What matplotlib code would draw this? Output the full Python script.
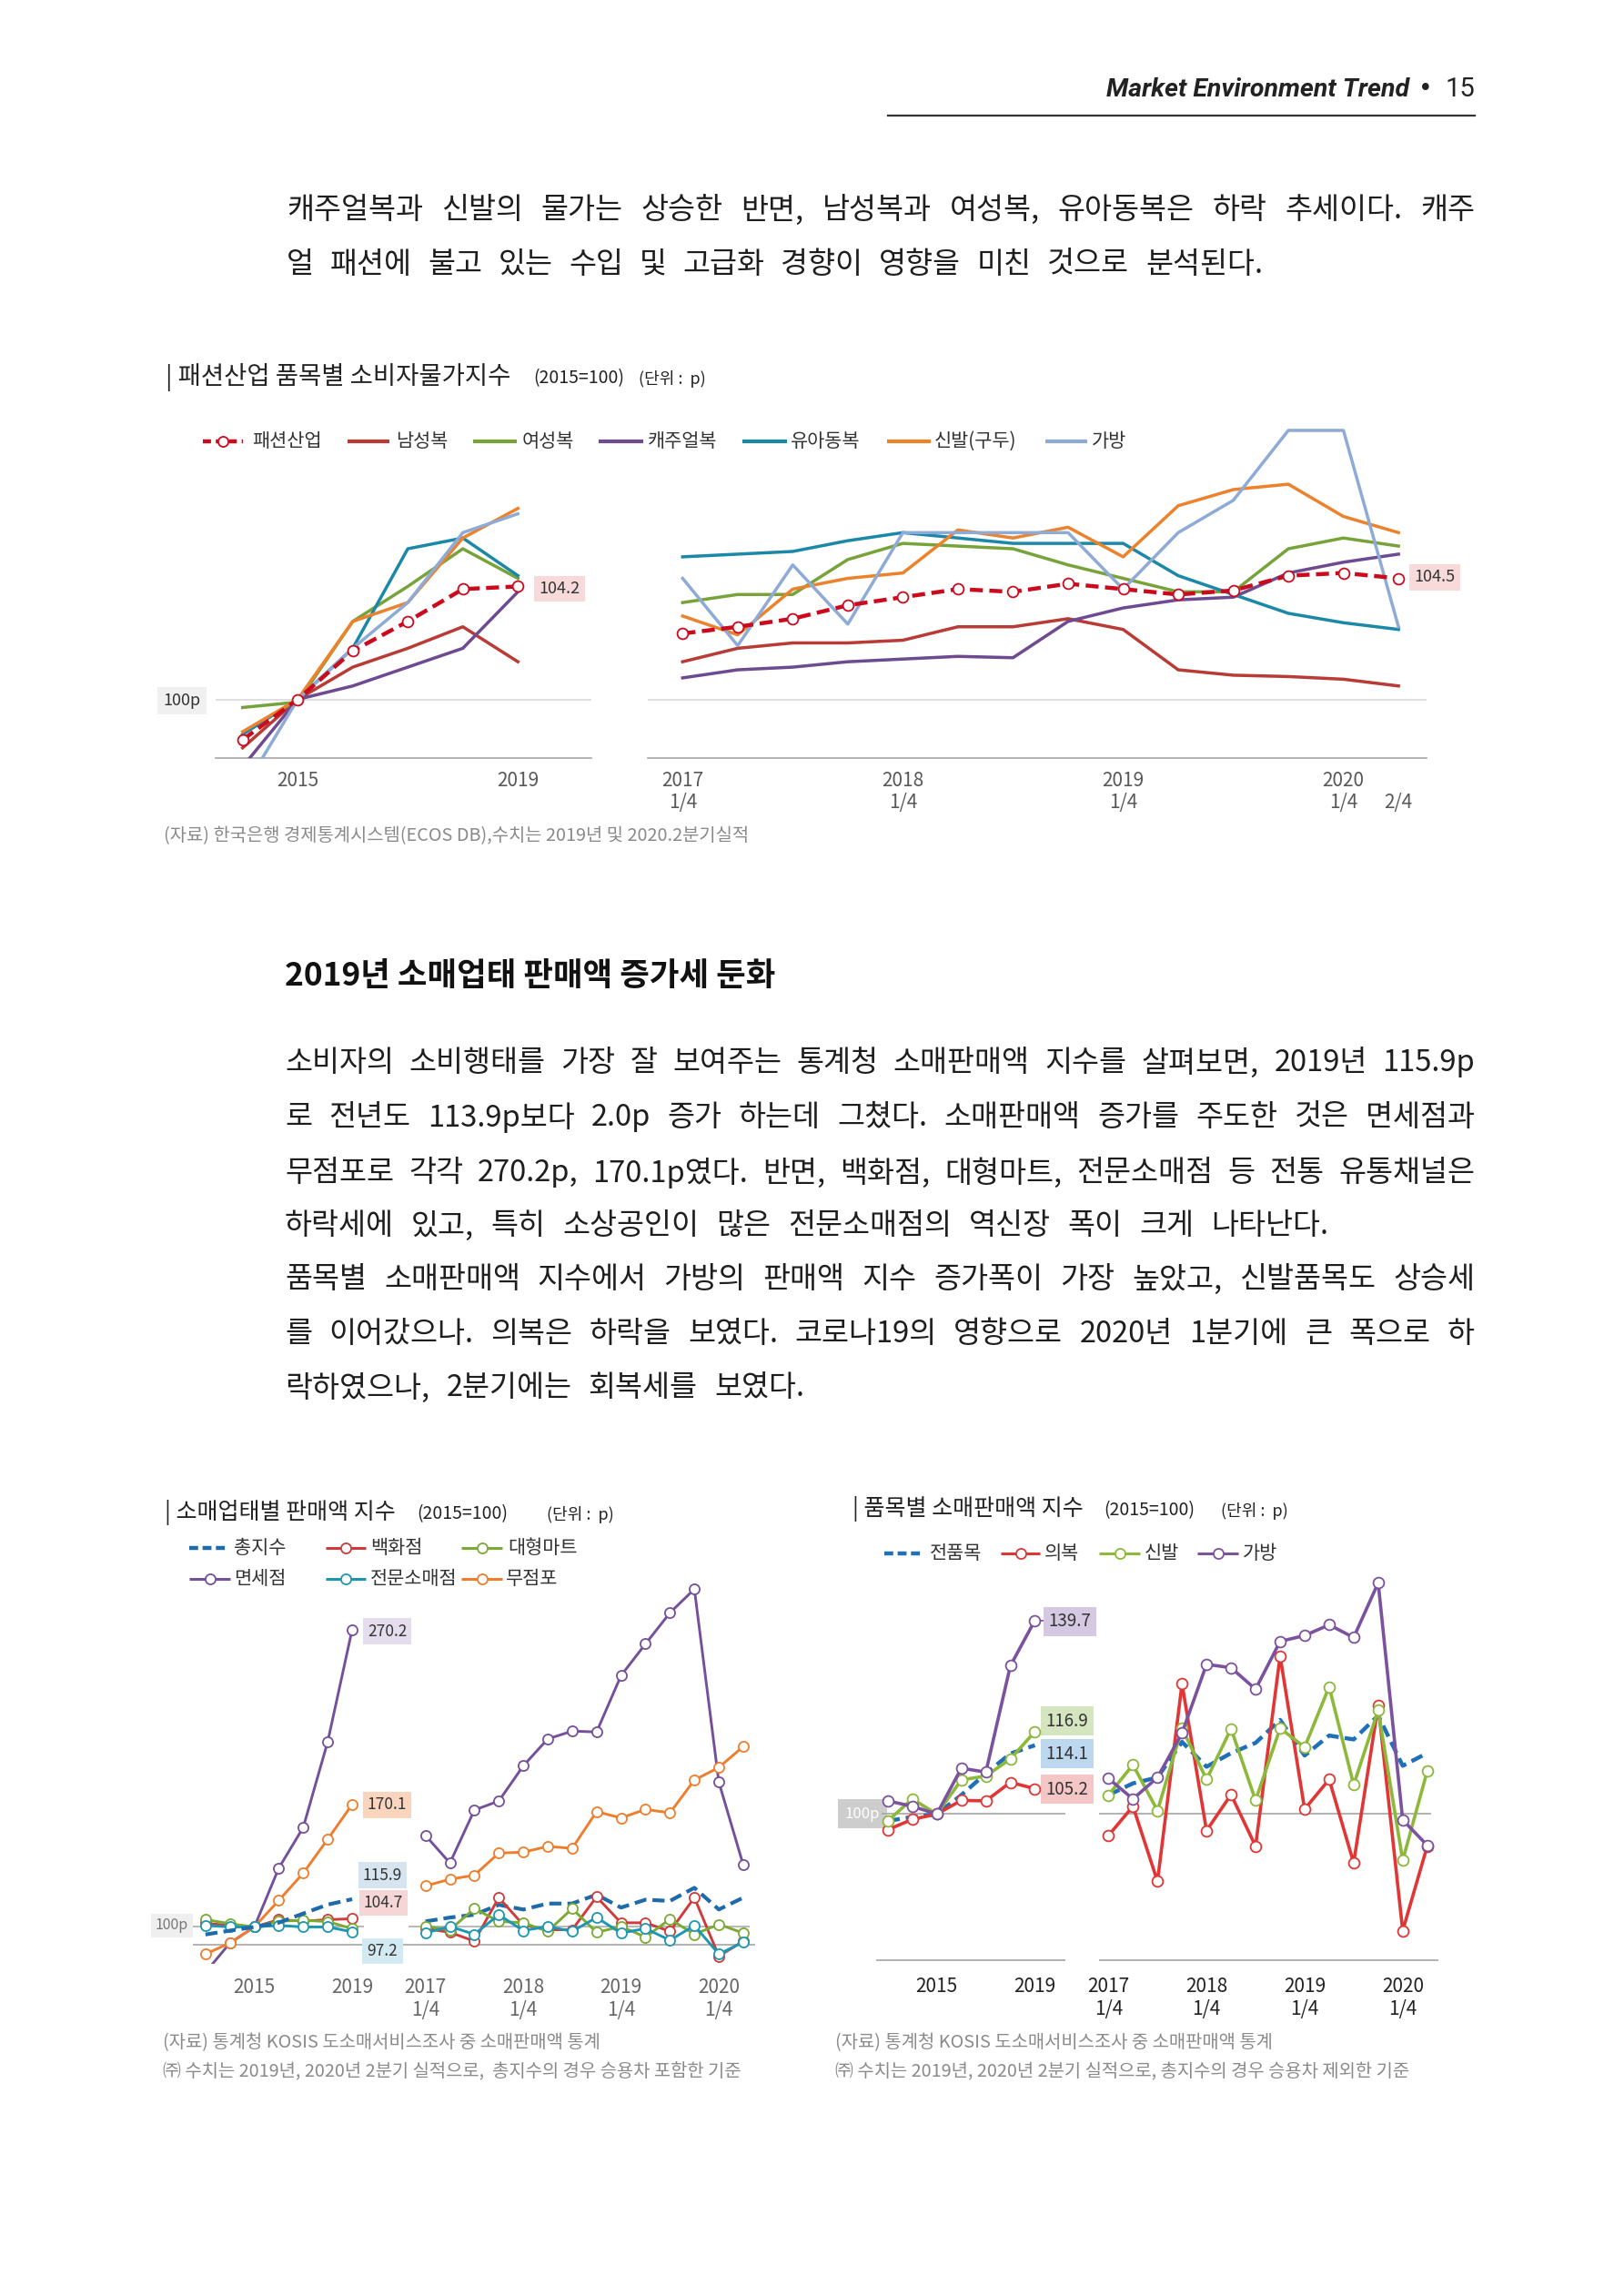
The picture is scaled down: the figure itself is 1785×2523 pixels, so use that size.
import matplotlib
matplotlib.use('Agg')
import matplotlib.pyplot as plt

plt.rcParams['font.family'] = ['Noto Sans CJK KR', 'DejaVu Sans']
plt.rcParams['axes.unicode_minus'] = False

# ================= DATA =================
# Chart 1: 패션산업 품목별 소비자물가지수 (2015=100)
cpi_year_labels = ['2014', '2015', '2016', '2017', '2018', '2019']
cpi_quarter_labels = ['2017 1/4', '2017 2/4', '2017 3/4', '2017 4/4',
                      '2018 1/4', '2018 2/4', '2018 3/4', '2018 4/4',
                      '2019 1/4', '2019 2/4', '2019 3/4', '2019 4/4',
                      '2020 1/4', '2020 2/4']
cpi_names = ['패션산업', '남성복', '여성복', '캐주얼복', '유아동복', '신발(구두)', '가방']
cpi_fashion_annual = [98.5, 100.0, 101.8, 102.9, 104.1, 104.2]
cpi_men_annual = [98.2, 100.0, 101.2, 101.9, 102.7, 101.4]
cpi_women_annual = [99.7, 99.9, 102.9, 104.2, 105.6, 104.5]
cpi_casual_annual = [97.5, 100.0, 100.5, 101.2, 101.9, 104.0]
cpi_kids_annual = [98.7, 100.0, 101.9, 105.6, 106.0, 104.6]
cpi_shoes_annual = [98.8, 100.0, 102.9, 103.6, 106.0, 107.1]
cpi_bags_annual = [96.6, 100.0, 101.9, 103.6, 106.2, 106.9]
cpi_fashion_q = [102.45, 102.7, 103.0, 103.5, 103.8, 104.1, 104.0, 104.3, 104.1, 103.9, 104.05, 104.6, 104.7, 104.5]
cpi_men_q = [101.4, 101.9, 102.1, 102.1, 102.2, 102.7, 102.7, 103.0, 102.6, 101.1, 100.9, 100.85, 100.75, 100.5]
cpi_women_q = [103.6, 103.9, 103.9, 105.2, 105.8, 105.7, 105.6, 105.0, 104.5, 104.0, 104.0, 105.6, 106.0, 105.7]
cpi_casual_q = [100.8, 101.1, 101.2, 101.4, 101.5, 101.6, 101.55, 102.9, 103.4, 103.7, 103.8, 104.7, 105.1, 105.4]
cpi_kids_q = [105.3, 105.4, 105.5, 105.9, 106.2, 106.0, 105.8, 105.8, 105.8, 104.6, 103.9, 103.2, 102.85, 102.6]
cpi_shoes_q = [103.1, 102.4, 104.1, 104.5, 104.7, 106.3, 106.0, 106.4, 105.3, 107.2, 107.8, 108.0, 106.8, 106.2]
cpi_bags_q = [104.5, 102.0, 105.0, 102.8, 106.2, 106.2, 106.2, 106.2, 104.1, 106.2, 107.4, 110.0, 110.0, 102.7]

# Chart 2: 소매업태별 판매액 지수 (2015=100)
retail_year_labels = ['2013', '2014', '2015', '2016', '2017', '2018', '2019']
retail_names = ['총지수', '백화점', '대형마트', '면세점', '전문소매점', '무점포']
retail_total_a = [95.7, 97.9, 100.0, 102.5, 107.7, 112.8, 115.9]
retail_dept_a = [102.1, 100.9, 100.0, 104.2, 103.3, 104.2, 104.7]
retail_mart_a = [104.2, 101.9, 100.0, 103.3, 103.8, 103.1, 99.0]
retail_dutyfree_a = [74.0, 90.8, 100.0, 133.7, 157.0, 206.0, 270.2]
retail_specialty_a = [100.9, 100.0, 100.0, 100.9, 100.0, 100.0, 97.2]
retail_nonstore_a = [84.5, 90.8, 100.0, 115.2, 130.8, 150.2, 170.1]
retail_total_q = [103.2, 105.4, 107.0, 112.7, 110.0, 113.4, 113.4, 118.5, 111.1, 115.6, 114.9, 122.4, 110.0, 116.8]
retail_dept_q = [99.1, 96.9, 91.9, 116.8, 101.2, 98.4, 98.4, 117.2, 102.4, 102.4, 97.5, 116.8, 83.3, 91.9]
retail_mart_q = [100.3, 98.4, 110.5, 103.2, 102.4, 97.5, 110.5, 96.9, 100.3, 94.2, 104.5, 95.8, 101.5, 96.5]
retail_dutyfree_q = [152.4, 136.6, 166.9, 172.1, 192.2, 207.6, 212.1, 211.6, 243.9, 262.0, 279.8, 293.4, 182.9, 135.5]
retail_specialty_q = [96.5, 100.3, 95.8, 107.0, 97.9, 100.3, 97.5, 105.4, 96.5, 99.1, 92.4, 100.8, 84.5, 91.3]
retail_nonstore_q = [123.5, 127.3, 129.6, 142.3, 142.8, 146.1, 145.0, 166.0, 162.4, 167.3, 165.3, 184.1, 191.3, 203.3]

# Chart 3: 품목별 소매판매액 지수 (2015=100)
item_names = ['전품목', '의복', '신발', '가방']
item_all_a = [98.6, 99.4, 100.0, 103.9, 108.3, 112.4, 114.1]
item_clothes_a = [96.8, 98.9, 100.0, 102.8, 102.7, 106.5, 105.2]
item_shoes_a = [98.6, 103.1, 100.0, 107.0, 107.8, 111.3, 116.9]
item_bags_a = [102.7, 101.6, 100.0, 109.4, 108.6, 130.4, 139.7]
item_all_q = [103.9, 106.3, 107.5, 114.8, 109.7, 112.5, 114.6, 119.3, 112.0, 116.1, 115.3, 120.2, 109.9, 112.5]
item_clothes_q = [95.6, 101.6, 86.2, 126.7, 96.6, 104.0, 93.4, 132.4, 101.0, 107.1, 90.0, 122.3, 76.1, 93.4]
item_shoes_q = [103.9, 110.1, 100.7, 117.6, 107.1, 117.5, 102.8, 117.6, 113.7, 126.1, 106.0, 121.3, 90.5, 108.8]
item_bags_q = [107.3, 103.1, 107.5, 116.6, 130.7, 130.0, 125.6, 135.4, 136.6, 138.8, 136.2, 147.4, 98.8, 93.6]

# ================= FIGURE =================
W, H = 1785, 2523
fig = plt.figure(figsize=(W / 100, H / 100), dpi=100)
fig.patch.set_facecolor('white')
bg = fig.add_axes([0, 0, 1, 1], zorder=0)
bg.set_xlim(0, W)
bg.set_ylim(H, 0)
bg.axis('off')
renderer = fig.canvas.get_renderer()

TXT = '#1e1e1e'
BODY = 23.5
LEG = 15
SRC = 14.3


def make_ax(x0, y0, x1, y1):
    ax = fig.add_axes([x0 / W, 1 - y1 / H, (x1 - x0) / W, (y1 - y0) / H], zorder=2)
    ax.patch.set_visible(False)
    for s in ax.spines.values():
        s.set_visible(False)
    ax.tick_params(axis='both', length=0)
    ax.set_yticks([])
    return ax


def justify(text, x0, x1, y, size, **kw):
    words = text.split(' ')
    arts = [bg.text(0, y, w, fontsize=size, va='center', ha='left', color=TXT, **kw) for w in words]
    widths = [a.get_window_extent(renderer).width for a in arts]
    gap = (x1 - x0 - sum(widths)) / max(len(words) - 1, 1)
    x = x0
    for a, w in zip(arts, widths):
        a.set_x(x)
        x += w + gap


def legend_item(x0, x1, y, color, label, tx, ls='-', lw=2.2, marker=False, fs=LEG):
    bg.plot([x0, x1], [y, y], color=color, lw=lw, ls=ls, solid_capstyle='butt')
    if marker:
        bg.plot([(x0 + x1) / 2], [y], marker='o', ms=8, mfc='white', mec=color, mew=1.3)
    bg.text(tx, y, label, va='center', ha='left', fontsize=fs, color='#333333')


def value_label(ax, x, v, dx, dy, fc, fs, lead=None):
    kw = {}
    if lead:
        kw['arrowprops'] = dict(arrowstyle='-', color=lead, lw=1.2, shrinkA=0, shrinkB=0)
    ax.annotate(f'{v:.1f}', xy=(x, v), xytext=(dx, dy), textcoords='offset points',
                ha='center', va='center', fontsize=fs, color='#333333', zorder=1,
                bbox=dict(boxstyle='square,pad=0.3', fc=fc, ec='none'), annotation_clip=False, **kw)


def chart_title(x, y, title, x2, x3, size):
    bg.text(x, y, '| ' + title, va='center', ha='left', fontsize=size, color='#222222')
    bg.text(x2, y + 2, '(2015=100)', va='center', ha='left', fontsize=14, color='#222222')
    bg.text(x3, y + 3, '(단위 :  p)', va='center', ha='left', fontsize=13, color='#222222')


# ---------- header ----------
bg.text(1621, 98, '15', ha='right', va='center', fontsize=21, family='Roboto', color='#222222')
bg.text(1567, 98, '•', ha='center', va='center', fontsize=19, family='DejaVu Sans', color='#222222')
bg.text(1549, 99, 'Market Environment Trend', ha='right', va='center', fontsize=20.5,
        family='Roboto', fontstyle='italic', fontweight='bold', color='#222222')
bg.plot([976, 1621], [127, 127], color='#333333', lw=1.6)

# ---------- paragraph 1 ----------
justify('캐주얼복과 신발의 물가는 상승한 반면, 남성복과 여성복, 유아동복은 하락 추세이다. 캐주', 315, 1621, 231, BODY)
justify('얼 패션에 불고 있는 수입 및 고급화 경향이 영향을 미친 것으로 분석된다.', 315, 1388, 291, BODY)

# ---------- chart 1 ----------
chart_title(182, 414, '패션산업 품목별 소비자물가지수', 586, 702, 19.8)

c_fashion, c_men, c_women, c_casual = '#CC0A1E', '#B83B36', '#77A33A', '#6E4A91'
c_kids, c_shoes, c_bags = '#1B88A8', '#EC822C', '#8EAAD6'
cpi_colors = [c_fashion, c_men, c_women, c_casual, c_kids, c_shoes, c_bags]

legend_item(223, 267, 485, c_fashion, cpi_names[0], 277, ls=(0, (2.0, 1.2)), lw=3.2, marker=True)
legend_item(382, 428, 485, c_men, cpi_names[1], 435, lw=3)
legend_item(520, 568, 485, c_women, cpi_names[2], 574, lw=3)
legend_item(658, 707, 485, c_casual, cpi_names[3], 712, lw=3)
legend_item(816, 865, 485, c_kids, cpi_names[4], 869, lw=3)
legend_item(975, 1023, 485, c_shoes, cpi_names[5], 1027, lw=3)
legend_item(1149, 1195, 485, c_bags, cpi_names[6], 1200, lw=3)

annual_sets = [cpi_men_annual, cpi_women_annual, cpi_casual_annual, cpi_kids_annual,
               cpi_shoes_annual, cpi_bags_annual]
quarter_sets = [cpi_men_q, cpi_women_q, cpi_casual_q, cpi_kids_q, cpi_shoes_q, cpi_bags_q]

ax1 = make_ax(236.7, 470, 650, 833)
ax1.set_xlim(-0.496, 6.335)
ax1.set_ylim(97.82, 110.1)
xa1 = list(range(len(cpi_year_labels)))
ax1.axhline(100, color='#D9D9D9', lw=1.2, zorder=1)
ax1.spines['bottom'].set_visible(True)
ax1.spines['bottom'].set_color('#A6A6A6')
ax1.spines['bottom'].set_linewidth(1.2)
for vals, col in zip(annual_sets, cpi_colors[1:]):
    ax1.plot(xa1, vals, color=col, lw=2.5, zorder=3)
ax1.plot(xa1, cpi_fashion_annual, color=c_fashion, lw=3.2, ls=(0, (3.2, 1.6)), marker='o',
         ms=8.5, mfc='white', mec=c_fashion, mew=1.3, zorder=4)
ax1.set_xticks([1, 5])
ax1.set_xticklabels([cpi_year_labels[1], cpi_year_labels[5]], fontsize=15, color='#595959')
ax1.tick_params(axis='x', pad=10)
value_label(ax1, 5, cpi_fashion_annual[-1], 32.8, -1.9, '#F8DADA', 13)

ax2 = make_ax(711.8, 470, 1568, 833)
ax2.set_xlim(-0.636, 13.51)
ax2.set_ylim(97.82, 110.1)
xq1 = list(range(len(cpi_quarter_labels)))
ax2.axhline(100, color='#D9D9D9', lw=1.2, zorder=1)
ax2.spines['bottom'].set_visible(True)
ax2.spines['bottom'].set_color('#A6A6A6')
ax2.spines['bottom'].set_linewidth(1.2)
for vals, col in zip(quarter_sets, cpi_colors[1:]):
    ax2.plot(xq1, vals, color=col, lw=2.5, zorder=3)
ax2.plot(xq1, cpi_fashion_q, color=c_fashion, lw=3.2, ls=(0, (3.2, 1.6)), marker='o',
         ms=8.5, mfc='white', mec=c_fashion, mew=1.3, zorder=4)
q_ticks = [i for i, l in enumerate(cpi_quarter_labels) if l.endswith('1/4')] + [len(cpi_quarter_labels) - 1]
q_ticklabels = [cpi_quarter_labels[i].replace(' ', '\n') for i in q_ticks[:-1]] + ['\n' + cpi_quarter_labels[-1].split(' ')[1]]
ax2.set_xticks(q_ticks)
ax2.set_xticklabels(q_ticklabels, fontsize=15, color='#595959', linespacing=1.15)
ax2.tick_params(axis='x', pad=10)
value_label(ax2, 13, cpi_fashion_q[-1], 28.9, 0.9, '#F8DADA', 13)

bg.text(200, 770, '100p', ha='center', va='center', fontsize=13, color='#333333',
        bbox=dict(boxstyle='square,pad=0.35', fc='#F0F0F0', ec='none'))
bg.text(180, 919, '(자료) 한국은행 경제통계시스템(ECOS DB),수치는 2019년 및 2020.2분기실적',
        ha='left', va='center', fontsize=SRC, color='#8a8a8a')

# ---------- heading + paragraph 2 ----------
bg.text(313, 1073, '2019년 소매업태 판매액 증가세 둔화', ha='left', va='center', fontsize=25.5,
        fontweight='bold', color='#111111')
para2 = [
    ('소비자의 소비행태를 가장 잘 보여주는 통계청 소매판매액 지수를 살펴보면, 2019년 115.9p', 1621, 1168),
    ('로 전년도 113.9p보다 2.0p 증가 하는데 그쳤다. 소매판매액 증가를 주도한 것은 면세점과', 1621, 1228),
    ('무점포로 각각 270.2p, 170.1p였다. 반면, 백화점, 대형마트, 전문소매점 등 전통 유통채널은', 1621, 1289),
    ('하락세에 있고, 특히 소상공인이 많은 전문소매점의 역신장 폭이 크게 나타난다.', 1460, 1347),
    ('품목별 소매판매액 지수에서 가방의 판매액 지수 증가폭이 가장 높았고, 신발품목도 상승세', 1621, 1406),
    ('를 이어갔으나. 의복은 하락을 보였다. 코로나19의 영향으로 2020년 1분기에 큰 폭으로 하', 1621, 1466),
    ('락하였으나, 2분기에는 회복세를 보였다.', 884, 1525),
]
for line, xr, yy in para2:
    justify(line, 313, xr, yy, BODY)

# ---------- chart 2 ----------
chart_title(181, 1662, '소매업태별 판매액 지수', 458, 601, 18)

r_total, r_dept, r_mart = '#1F6BAA', '#D03A3A', '#7BAA35'
r_duty, r_spec, r_non = '#74509A', '#1C97B3', '#EE7D2D'
legend_item(208, 249, 1701, r_total, retail_names[0], 257, ls=(0, (2.2, 1.1)), lw=3.2)
legend_item(358, 402, 1701, r_dept, retail_names[1], 407, marker=True)
legend_item(507, 552, 1701, r_mart, retail_names[2], 558, marker=True)
legend_item(208, 253, 1735, r_duty, retail_names[3], 257, marker=True)
legend_item(358, 402, 1735, r_spec, retail_names[4], 407, marker=True)
legend_item(507, 552, 1735, r_non, retail_names[5], 556, marker=True)

ax3 = make_ax(212.4, 1733.5, 830.4, 2157.8)
ax3.set_xlim(-0.5, 22.5)
ax3.set_ylim(79, 300)
xa3 = list(range(len(retail_year_labels)))
xq3 = list(range(len(retail_year_labels) + 2, len(retail_year_labels) + 2 + len(retail_total_q)))
ax3.hlines(90, -0.5, 22.5, color='#A6A6A6', lw=1.2, zorder=1)
ax3.hlines(100, -0.5, 6.48, color='#A6A6A6', lw=1.1, zorder=1)
ax3.hlines(100, 8.3, 22.26, color='#A6A6A6', lw=1.1, zorder=1)
mk = dict(marker='o', ms=8, mfc='white', mew=1.3, lw=2.1, zorder=3)
for xs, sets in [(xa3, [retail_dutyfree_a, retail_nonstore_a, retail_dept_a, retail_mart_a, retail_specialty_a]),
                 (xq3, [retail_dutyfree_q, retail_nonstore_q, retail_dept_q, retail_mart_q, retail_specialty_q])]:
    for vals, col in zip(sets, [r_duty, r_non, r_dept, r_mart, r_spec]):
        ax3.plot(xs, vals, color=col, mec=col, **mk)
ax3.plot(xa3, retail_total_a, color=r_total, lw=3, ls=(0, (3.2, 1.6)), zorder=4)
ax3.plot(xq3, retail_total_q, color=r_total, lw=3, ls=(0, (3.2, 1.6)), zorder=2.5)
ax3.set_xticks([2, 6] + [xq3[i] for i in (0, 4, 8, 12)])
ax3.set_xticklabels(['2015', '2019', '2017\n1/4', '2018\n1/4', '2019\n1/4', '2020\n1/4'],
                    fontsize=15, color='#666666', linespacing=1.15)
ax3.tick_params(axis='x', pad=11)
value_label(ax3, 6, retail_dutyfree_a[-1], 27.7, -1.4, '#E4DDEE', 12.5)
value_label(ax3, 6, retail_nonstore_a[-1], 27.7, -0.4, '#FAD5BE', 12.5)
value_label(ax3, 6, retail_total_a[-1], 24.1, 19.0, '#D6E4F0', 12.5)
value_label(ax3, 6, retail_dept_a[-1], 24.8, 12.6, '#F5D5D5', 12.5)
value_label(ax3, 6, retail_specialty_a[-1], 24.1, -15.2, '#D4EAF3', 12.5)
bg.text(189, 2116, '100p', ha='center', va='center', fontsize=11.5, color='#777777',
        bbox=dict(boxstyle='square,pad=0.3', fc='#EFEFEF', ec='none'))
bg.text(179, 2245, '(자료) 통계청 KOSIS 도소매서비스조사 중 소매판매액 통계', ha='left', va='center',
        fontsize=SRC, color='#8a8a8a')
bg.text(179, 2277, '㈜ 수치는 2019년, 2020년 2분기 실적으로,  총지수의 경우 승용차 포함한 기준', ha='left',
        va='center', fontsize=SRC, color='#8a8a8a')

# ---------- chart 3 ----------
chart_title(937, 1658, '품목별 소매판매액 지수', 1213, 1342, 18)

i_all, i_clo, i_sho, i_bag = '#1F70B8', '#E03636', '#8DB83A', '#7B529E'
legend_item(972, 1014, 1707, i_all, item_names[0], 1022, ls=(0, (2.2, 1.1)), lw=3.2)
legend_item(1100, 1143, 1707, i_clo, item_names[1], 1148, marker=True)
legend_item(1208, 1253, 1707, i_sho, item_names[2], 1258, marker=True)
legend_item(1316, 1361, 1707, i_bag, item_names[3], 1366, marker=True)

ax4 = make_ax(962.3, 1714.7, 1582.2, 2156.9)
ax4.set_xlim(-0.5, 22.5)
ax4.set_ylim(69.5, 152)
xa4 = list(range(len(item_all_a)))
xq4 = list(range(len(item_all_a) + 2, len(item_all_a) + 2 + len(item_all_q)))
ax4.hlines(70, -0.48, 7.24, color='#A6A6A6', lw=1.2, zorder=1)
ax4.hlines(70, 8.62, 22.45, color='#A6A6A6', lw=1.2, zorder=1)
ax4.hlines(100, -0.26, 7.24, color='#A6A6A6', lw=1.2, zorder=1)
ax4.hlines(100, 8.62, 22.16, color='#A6A6A6', lw=1.2, zorder=1)
mk4 = dict(marker='o', ms=8.5, mfc='white', mew=1.3, lw=2.6, zorder=3)
ax4.plot(xa4, item_all_a, color=i_all, lw=3.2, ls=(0, (3.0, 1.5)), zorder=2.5)
ax4.plot(xq4, item_all_q, color=i_all, lw=3.2, ls=(0, (3.0, 1.5)), zorder=2.5)
for xs, sets in [(xa4, [item_clothes_a, item_shoes_a, item_bags_a]),
                 (xq4, [item_clothes_q, item_shoes_q, item_bags_q])]:
    for vals, col in zip(sets, [i_clo, i_sho, i_bag]):
        ax4.plot(xs, vals, color=col, mec=col, **mk4)
ax4.set_xticks([2, 6] + [xq4[i] for i in (0, 4, 8, 12)])
ax4.set_xticklabels(['2015', '2019', '2017\n1/4', '2018\n1/4', '2019\n1/4', '2020\n1/4'],
                    fontsize=15, color='#222222', linespacing=1.15)
ax4.tick_params(axis='x', pad=11)
value_label(ax4, 6, item_bags_a[-1], 27.5, -0.9, '#D5C8E3', 13.5, lead=i_bag)
value_label(ax4, 6, item_shoes_a[-1], 25.6, 8.4, '#D5E5C0', 13.5)
value_label(ax4, 6, item_all_a[-1], 25.6, -6.6, '#BDD7EE', 13.5)
value_label(ax4, 6, item_clothes_a[-1], 25.6, -0.4, '#F4C6C6', 13.5)
bg.text(948, 1993, '100p', ha='center', va='center', fontsize=12, color='white', zorder=5,
        bbox=dict(boxstyle='square,pad=0.45', fc='#CDCDCD', ec='none'))
bg.text(918, 2245, '(자료) 통계청 KOSIS 도소매서비스조사 중 소매판매액 통계', ha='left', va='center',
        fontsize=SRC, color='#8a8a8a')
bg.text(918, 2277, '㈜ 수치는 2019년, 2020년 2분기 실적으로, 총지수의 경우 승용차 제외한 기준', ha='left',
        va='center', fontsize=SRC, color='#8a8a8a')

fig.savefig('out.png', dpi=100, facecolor='white')
